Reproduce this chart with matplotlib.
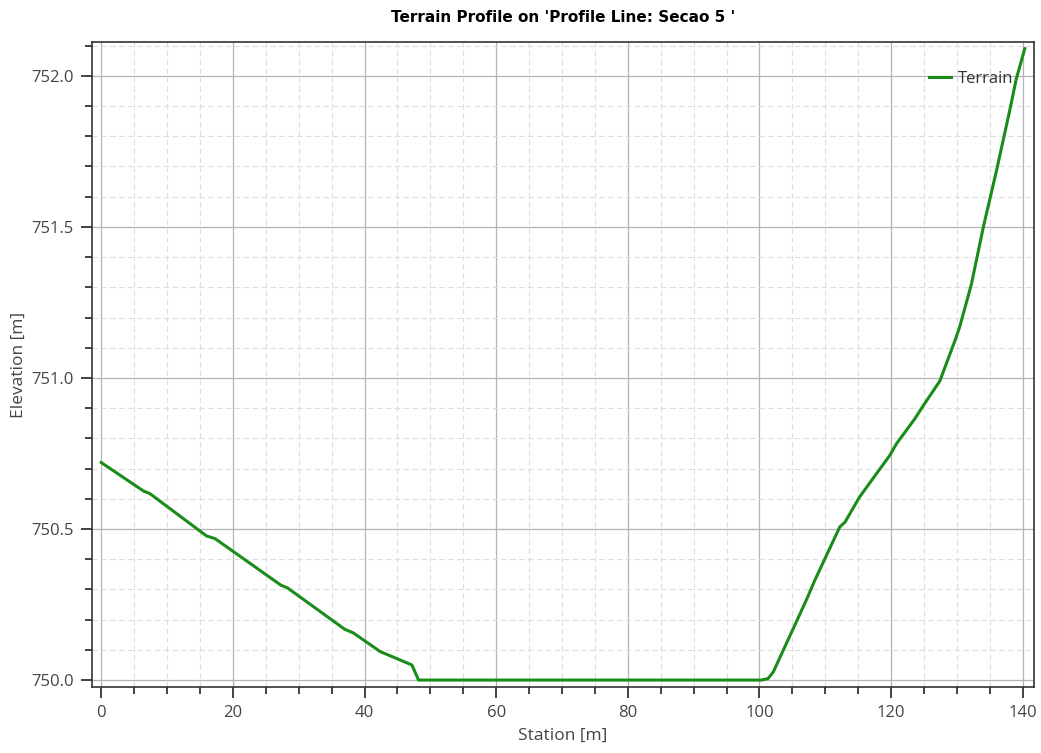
import matplotlib.pyplot as plt
from matplotlib.ticker import MultipleLocator, FormatStrFormatter

# values
station = [0.0, 6.4, 7.4, 16.0, 17.3, 27.3, 28.3, 37.0, 38.3, 42.4, 47.2, 48.2,
           60.0, 80.0, 100.3, 101.3, 102.1, 107.1, 108.4, 112.2, 113.0, 115.2,
           119.8, 120.8, 123.6, 124.9, 127.4, 129.7, 130.4, 132.2, 134.0, 136.0,
           138.0, 139.0, 140.3]
elevation = [750.72, 750.626, 750.617, 750.477, 750.468, 750.314, 750.305, 750.168,
             750.156, 750.094, 750.050, 750.0, 750.0, 750.0, 750.0, 750.005,
             750.027, 750.264, 750.33, 750.507, 750.523, 750.606, 750.744, 750.782,
             750.865, 750.909, 750.99, 751.124, 751.168, 751.311, 751.499, 751.686,
             751.884, 751.989, 752.09]

plt.rcParams['font.family'] = ['Open Sans', 'DejaVu Sans']

fig = plt.figure(figsize=(10.41, 7.53), dpi=100)
ax = fig.add_axes([92 / 1041, 66 / 753, 942 / 1041, 645 / 753])

ax.plot(station, elevation, color='#1a8c1a', lw=2.2, label='Terrain', zorder=3)

ax.set_xlim(-1.4, 141.7)
ax.set_ylim(749.977, 752.112)

ax.xaxis.set_major_locator(MultipleLocator(20))
ax.xaxis.set_minor_locator(MultipleLocator(5))
ax.yaxis.set_major_locator(MultipleLocator(0.5))
ax.yaxis.set_minor_locator(MultipleLocator(0.1))
ax.yaxis.set_major_formatter(FormatStrFormatter('%.1f'))

ax.grid(which='major', color='#b4b4b4', lw=0.9, ls='-')
ax.grid(which='minor', color='#dedede', lw=0.8, ls=(0, (5, 3)))
ax.set_axisbelow(True)

ax.tick_params(which='both', direction='out', colors='#222222', labelcolor='#444444',
               labelsize=12, width=1.2)
ax.tick_params(which='major', length=8, pad=5)
ax.tick_params(which='minor', length=5)
for s in ax.spines.values():
    s.set_color('#333333')
    s.set_linewidth(1.2)

ax.set_xlabel('Station [m]', fontsize=12.5, color='#444444', labelpad=5)
ax.set_ylabel('Elevation [m]', fontsize=12.5, color='#444444', labelpad=3)
fig.suptitle("Terrain Profile on 'Profile Line: Secao 5 '", x=563 / 1041, y=1 - 18 / 753,
             va='center', fontsize=11, fontweight='bold',
             family=['Liberation Sans Narrow', 'DejaVu Sans'])

leg = ax.legend(loc='upper right', bbox_to_anchor=(0.985, 0.966), borderaxespad=0,
                frameon=False, fontsize=12, handlelength=1.3, handletextpad=0.4)
for t in leg.get_texts():
    t.set_color('#333333')

fig.savefig('out.png', dpi=100)
